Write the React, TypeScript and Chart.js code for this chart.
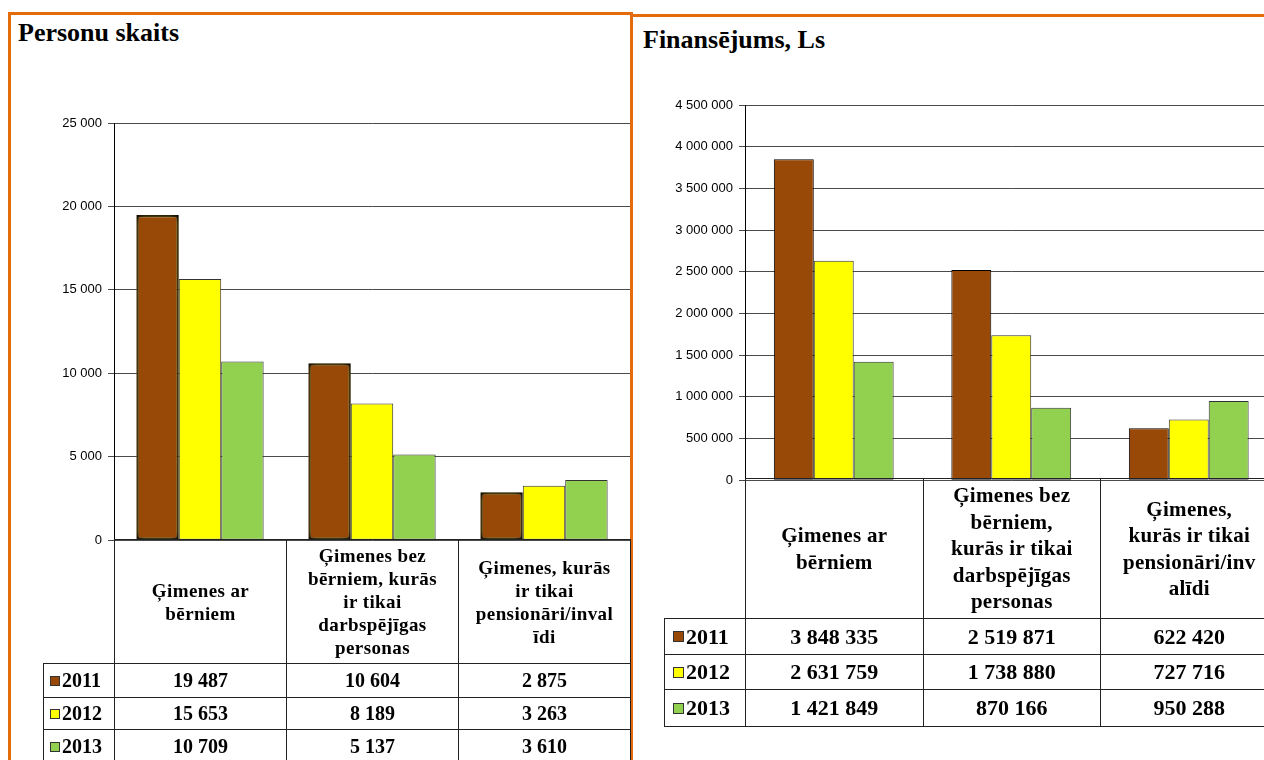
import React, { useEffect, useRef } from "react";
import { Chart, registerables } from "chart.js";

Chart.register(...registerables);

// ---------- DATA ----------
const years = ["2011", "2012", "2013"];
const categoryKeys = [
  "Ģimenes ar bērniem",
  "Ģimenes bez bērniem, kurās ir tikai darbspējīgas personas",
  "Ģimenes, kurās ir tikai pensionāri/invalīdi",
];
const categoryLinesLeft = [
  ["Ģimenes ar", "bērniem"],
  ["Ģimenes bez", "bērniem, kurās", "ir tikai", "darbspējīgas", "personas"],
  ["Ģimenes, kurās", "ir tikai", "pensionāri/inval", "īdi"],
];
const categoryLinesRight = [
  ["Ģimenes ar", "bērniem"],
  ["Ģimenes bez", "bērniem,", "kurās ir tikai", "darbspējīgas", "personas"],
  ["Ģimenes,", "kurās ir tikai", "pensionāri/inv", "alīdi"],
];
const persons2011 = [19487, 10604, 2875];
const persons2012 = [15653, 8189, 3263];
const persons2013 = [10709, 5137, 3610];
const funding2011 = [3848335, 2519871, 622420];
const funding2012 = [2631759, 1738880, 727716];
const funding2013 = [1421849, 870166, 950288];
const personsAxisMax = 25000;
const personsAxisStep = 5000;
const fundingAxisMax = 4500000;
const fundingAxisStep = 500000;
const titleLeft = "Personu skaits";
const titleRight = "Finansējums, Ls";

const yearColors = ["#984807", "#FFFF00", "#92D050"];
const ORANGE = "#E46C0A";

const fmt = (n: number) =>
  Math.round(n).toString().replace(/\B(?=(\d{3})+(?!\d))/g, " ");

const glowPlugin = {
  id: "brownGlow",
  beforeDatasetDraw(chart: any, args: any, opts: any) {
    if (!opts || !opts.enabled || args.index !== 0) return;
    const ctx = chart.ctx;
    ctx.save();
    ctx.shadowColor = "rgba(255, 200, 60, 0.9)";
    ctx.shadowBlur = 7;
    ctx.shadowOffsetX = 0;
    ctx.shadowOffsetY = 0;
  },
  afterDatasetDraw(chart: any, args: any, opts: any) {
    if (!opts || !opts.enabled || args.index !== 0) return;
    chart.ctx.restore();
  },
};

type PanelProps = {
  left: number;
  top: number;
  width: number;
  height: number;
  yAxisWidth: number;
  pad: { top: number; right: number; bottom: number };
  series: number[][];
  max: number;
  step: number;
  catPct: number;
  brownBorder: number;
  glow: boolean;
};

function BarPanel(p: PanelProps) {
  const ref = useRef<HTMLCanvasElement>(null);
  useEffect(() => {
    if (!ref.current) return;
    const chart = new Chart(ref.current, {
      type: "bar",
      data: {
        labels: categoryKeys,
        datasets: years.map((y, i) => ({
          label: y,
          data: p.series[i],
          backgroundColor: yearColors[i],
          borderColor: i === 0 ? "#000" : "#333",
          borderWidth: i === 0 ? p.brownBorder : 1,
          borderSkipped: false,
          categoryPercentage: p.catPct,
          barPercentage: 1,
        })),
      },
      options: {
        responsive: false,
        animation: false,
        devicePixelRatio: 1,
        layout: {
          padding: { left: 0, top: p.pad.top, right: p.pad.right, bottom: p.pad.bottom },
        },
        plugins: {
          legend: { display: false },
          tooltip: { enabled: false },
          title: { display: false },
          brownGlow: { enabled: p.glow },
        } as any,
        scales: {
          x: { display: false },
          y: {
            min: 0,
            max: p.max,
            afterFit: (s: any) => {
              s.width = p.yAxisWidth;
            },
            ticks: {
              stepSize: p.step,
              padding: 6,
              color: "#000",
              font: { family: "Liberation Sans", size: 13 },
              callback: (v: any) => fmt(Number(v)),
            },
            grid: { color: "#4a4a4a", lineWidth: 1, tickLength: 6, drawTicks: true },
            border: { display: true, color: "#000", width: 1 },
          },
        },
      },
      plugins: [glowPlugin],
    });
    return () => chart.destroy();
  }, []);
  return (
    <canvas
      ref={ref}
      width={p.width}
      height={p.height}
      style={{ position: "absolute", left: p.left, top: p.top, width: p.width, height: p.height }}
    />
  );
}

type TableProps = {
  legendX: number;
  axisX: number;
  colW: number;
  catTop: number;
  catH: number;
  rowHs: number[];
  cats: string[][];
  values: number[][];
  catFont: number;
  catLH: number;
  catSpacing: number;
  dataFont: number;
  sq: number;
  sqLeft: number;
};

function DataTable(t: TableProps) {
  const cells: any[] = [];
  const line = "1px solid #222";
  t.cats.forEach((lines, c) => {
    cells.push(
      <div
        key={"c" + c}
        style={{
          position: "absolute",
          left: t.axisX + c * t.colW,
          top: t.catTop,
          width: t.colW + 1,
          height: t.catH + 1,
          boxSizing: "border-box",
          border: line,
          display: "flex",
          flexDirection: "column",
          justifyContent: "center",
          alignItems: "center",
          fontWeight: "bold",
          fontSize: t.catFont,
          lineHeight: t.catLH + "px",
          textAlign: "center",
          letterSpacing: t.catSpacing,
          overflow: "visible",
        }}
      >
        {lines.map((l, k) => (
          <div key={k} style={{ whiteSpace: "nowrap" }}>
            {l}
          </div>
        ))}
      </div>
    );
  });
  let y = t.catTop + t.catH;
  years.forEach((yr, r) => {
    const h = t.rowHs[r];
    cells.push(
      <div
        key={"l" + r}
        style={{
          position: "absolute",
          left: t.legendX,
          top: y,
          width: t.axisX - t.legendX + 1,
          height: h + 1,
          boxSizing: "border-box",
          border: line,
          display: "flex",
          alignItems: "center",
          fontWeight: "bold",
          fontSize: t.dataFont,
        }}
      >
        <span
          style={{
            display: "inline-block",
            width: t.sq,
            height: t.sq,
            boxSizing: "border-box",
            marginLeft: t.sqLeft,
            marginRight: 2,
            background: yearColors[r],
            border: "1px solid #333",
          }}
        />
        <span>{yr}</span>
      </div>
    );
    t.values[r].forEach((v, c) => {
      cells.push(
        <div
          key={"v" + r + "_" + c}
          style={{
            position: "absolute",
            left: t.axisX + c * t.colW,
            top: y,
            width: t.colW + 1,
            height: h + 1,
            boxSizing: "border-box",
            border: line,
            display: "flex",
            alignItems: "center",
            justifyContent: "center",
            fontWeight: "bold",
            fontSize: t.dataFont,
          }}
        >
          {fmt(v)}
        </div>
      );
    });
    y += h;
  });
  return <>{cells}</>;
}

export default function App() {
  return (
    <div
      style={{
        position: "absolute",
        left: 0,
        top: 0,
        width: 1264,
        height: 760,
        overflow: "hidden",
        background: "#fff",
        fontFamily: "'Liberation Serif', 'Times New Roman', serif",
        color: "#000",
      }}
    >
      {/* orange panel frames */}
      <div
        style={{
          position: "absolute",
          left: 8,
          top: 12,
          width: 625,
          height: 800,
          boxSizing: "border-box",
          border: `3px solid ${ORANGE}`,
        }}
      />
      <div
        style={{
          position: "absolute",
          left: 630,
          top: 14,
          width: 700,
          height: 800,
          boxSizing: "border-box",
          border: `3px solid ${ORANGE}`,
        }}
      />
      <div
        style={{
          position: "absolute",
          left: 18,
          top: 18,
          fontSize: 26,
          fontWeight: "bold",
          lineHeight: "30px",
          whiteSpace: "nowrap",
        }}
      >
        {titleLeft}
      </div>
      <div
        style={{
          position: "absolute",
          left: 643,
          top: 25,
          fontSize: 26,
          fontWeight: "bold",
          lineHeight: "30px",
          whiteSpace: "nowrap",
        }}
      >
        {titleRight}
      </div>

      <BarPanel
        left={40}
        top={100}
        width={592}
        height={454}
        yAxisWidth={74}
        pad={{ top: 23, right: 2, bottom: 6 }}
        series={[persons2011, persons2012, persons2013]}
        max={personsAxisMax}
        step={personsAxisStep}
        catPct={0.74}
        brownBorder={2.5}
        glow={true}
      />
      <DataTable
        legendX={43}
        axisX={114}
        colW={172}
        catTop={539}
        catH={124}
        rowHs={[34, 32, 34]}
        cats={categoryLinesLeft}
        values={[persons2011, persons2012, persons2013]}
        catFont={19}
        catLH={23}
        catSpacing={0.4}
        dataFont={20}
        sq={10}
        sqLeft={6}
      />

      <BarPanel
        left={640}
        top={90}
        width={640}
        height={404}
        yAxisWidth={105}
        pad={{ top: 15, right: 2.5, bottom: 6 }}
        series={[funding2011, funding2012, funding2013]}
        max={fundingAxisMax}
        step={fundingAxisStep}
        catPct={0.675}
        brownBorder={1}
        glow={false}
      />
      <DataTable
        legendX={664}
        axisX={745}
        colW={177.5}
        catTop={478}
        catH={140}
        rowHs={[36, 35, 37]}
        cats={categoryLinesRight}
        values={[funding2011, funding2012, funding2013]}
        catFont={21}
        catLH={26.5}
        catSpacing={0.3}
        dataFont={22}
        sq={11}
        sqLeft={8}
      />
    </div>
  );
}
